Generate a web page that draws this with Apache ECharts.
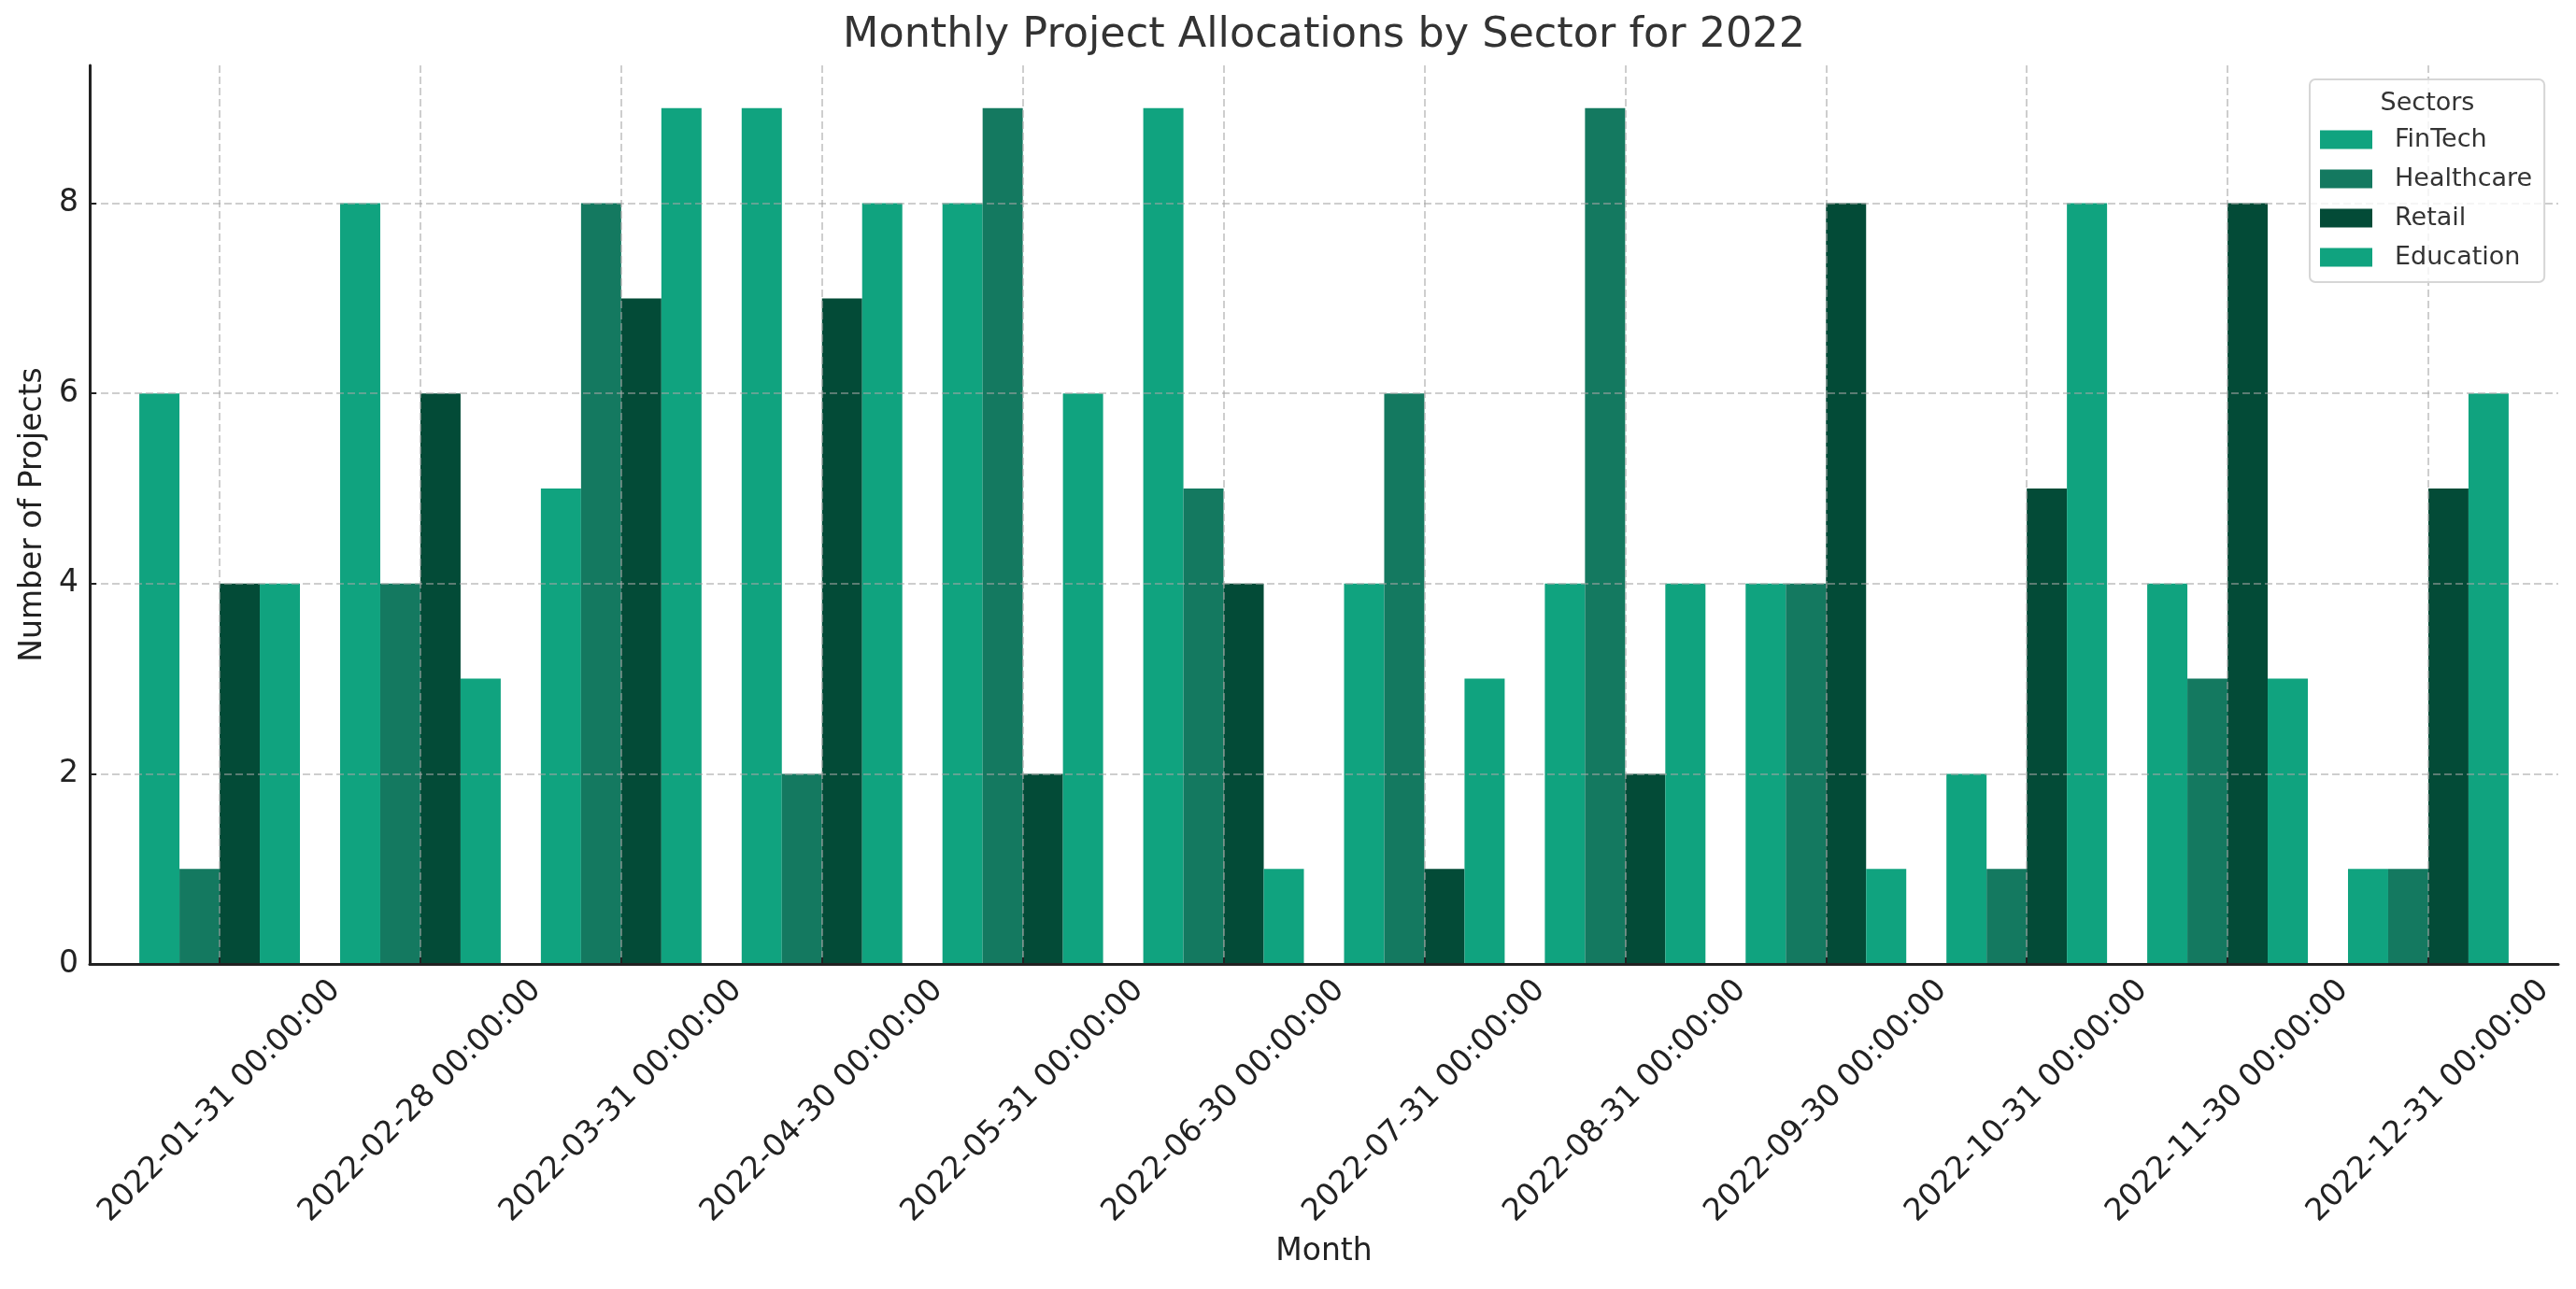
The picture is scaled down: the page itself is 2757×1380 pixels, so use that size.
<!DOCTYPE html>
<html>
<head>
<meta charset="utf-8">
<title>Monthly Project Allocations by Sector for 2022</title>
<script src="https://cdn.jsdelivr.net/npm/echarts@6/dist/echarts.min.js"></script>
<style>
	html, body { margin: 0; padding: 0; background: #fff; }
	#chart { width: 2757px; height: 1380px; }
</style>
</head>
<body>
<div id="chart"></div>
<script>
// data
var months = [
	"2022-01-31 00:00:00", "2022-02-28 00:00:00", "2022-03-31 00:00:00",
	"2022-04-30 00:00:00", "2022-05-31 00:00:00", "2022-06-30 00:00:00",
	"2022-07-31 00:00:00", "2022-08-31 00:00:00", "2022-09-30 00:00:00",
	"2022-10-31 00:00:00", "2022-11-30 00:00:00", "2022-12-31 00:00:00"
];
var sectors = ["FinTech", "Healthcare", "Retail", "Education"];
var finTech    = [6, 8, 5, 9, 8, 9, 4, 4, 4, 2, 4, 1];
var healthcare = [1, 4, 8, 2, 9, 5, 6, 9, 4, 1, 3, 1];
var retail     = [4, 6, 7, 7, 2, 4, 1, 2, 8, 5, 8, 5];
var education  = [4, 3, 9, 8, 6, 1, 3, 4, 1, 8, 3, 6];
var yTicks = [0, 2, 4, 6, 8];

var colors = ["#10a37f", "#147960", "#034b37", "#10a37f"];
var font = "DejaVu Sans";
var gridLine = { show: true, lineStyle: { color: "rgba(165,165,165,0.55)", width: 2, type: [8, 4] } };

var myChart = echarts.init(document.getElementById("chart"));

function bar(name, data, idx){
	return {
		name: name,
		type: "bar",
		xAxisIndex: 1,
		yAxisIndex: 1,
		data: data,
		barGap: 0,
		barCategoryGap: "20%",
		itemStyle: { color: colors[idx] },
		emphasis: { disabled: true }
	};
}

var option = {
	animation: false,
	backgroundColor: "#fff",
	textStyle: { fontFamily: font },
	title: [{
		text: "Monthly Project Allocations by Sector for 2022",
		left: 1417,
		textAlign: "center",
		top: 16,
		padding: 0,
		textStyle: { fontFamily: font, fontSize: 44.5, fontWeight: "normal", color: "#333" }
	}, {
		text: "Sectors",
		left: 2598,
		textAlign: "center",
		top: 97,
		padding: 0,
		z: 10,
		textStyle: { fontFamily: font, fontSize: 27, fontWeight: "normal", color: "#333" }
	}],
	legend: {
		data: sectors,
		orient: "vertical",
		left: 2472,
		top: 85,
		padding: [51, 13, 13, 11],
		itemWidth: 56,
		itemHeight: 20,
		itemGap: 15,
		icon: "rect",
		backgroundColor: "rgba(255,255,255,0.8)",
		borderColor: "#d6d6d6",
		borderWidth: 2,
		borderRadius: 6,
		textStyle: { fontFamily: font, fontSize: 27, color: "#333", padding: [0, 0, 0, 19] }
	},
	// grid 0 = full axes box (spines, y ticks, horizontal grid), grid 1 = the bar bands
	grid: [
		{ left: 96, right: 19, top: 70, bottom: 348 },
		{ left: 127.6, right: 50.6, top: 70, bottom: 348 }
	],
	xAxis: [{
		gridIndex: 0,
		type: "value",
		min: 0,
		max: 1,
		z: 3,
		axisLine: { show: true, lineStyle: { color: "#222", width: 3 } },
		axisTick: { show: false },
		axisLabel: { show: false },
		splitLine: { show: false }
	}, {
		gridIndex: 1,
		type: "category",
		data: months,
		z: 3,
		name: "Month",
		nameLocation: "middle",
		nameGap: 292,
		nameTextStyle: { fontFamily: font, fontSize: 33, color: "#222" },
		axisLine: { show: false },
		axisTick: { show: true, inside: true, length: 7, alignWithLabel: true, lineStyle: { color: "#222", width: 2 } },
		axisLabel: {
			interval: 0,
			rotate: 45,
			align: "center",
			verticalAlign: "middle",
			margin: 147,
			fontFamily: font,
			fontSize: 33,
			color: "#222"
		},
		splitLine: echarts.util.merge({ alignWithLabel: true, interval: 0 }, gridLine)
	}],
	yAxis: [{
		gridIndex: 0,
		type: "value",
		min: yTicks[0],
		max: 9.45,
		interval: 2,
		z: 3,
		name: "Number of Projects",
		nameLocation: "middle",
		nameGap: 44,
		nameTextStyle: { fontFamily: font, fontSize: 33, color: "#222" },
		axisLine: { show: true, lineStyle: { color: "#222", width: 3 } },
		axisTick: { show: true, inside: true, length: 7, lineStyle: { color: "#222", width: 2 } },
		axisLabel: {
			margin: 12,
			fontFamily: font,
			fontSize: 33,
			color: "#222",
			showMaxLabel: false,
			formatter: function(v){ return yTicks.indexOf(v) >= 0 ? String(v) : ""; }
		},
		splitLine: echarts.util.merge({ showMinLine: false, showMaxLine: false }, gridLine)
	}, {
		gridIndex: 1,
		type: "value",
		min: yTicks[0],
		max: 9.45,
		show: false
	}],
	series: [
		bar(sectors[0], finTech, 0),
		bar(sectors[1], healthcare, 1),
		bar(sectors[2], retail, 2),
		bar(sectors[3], education, 3)
	]
};
myChart.setOption(option);
</script>
</body>
</html>
